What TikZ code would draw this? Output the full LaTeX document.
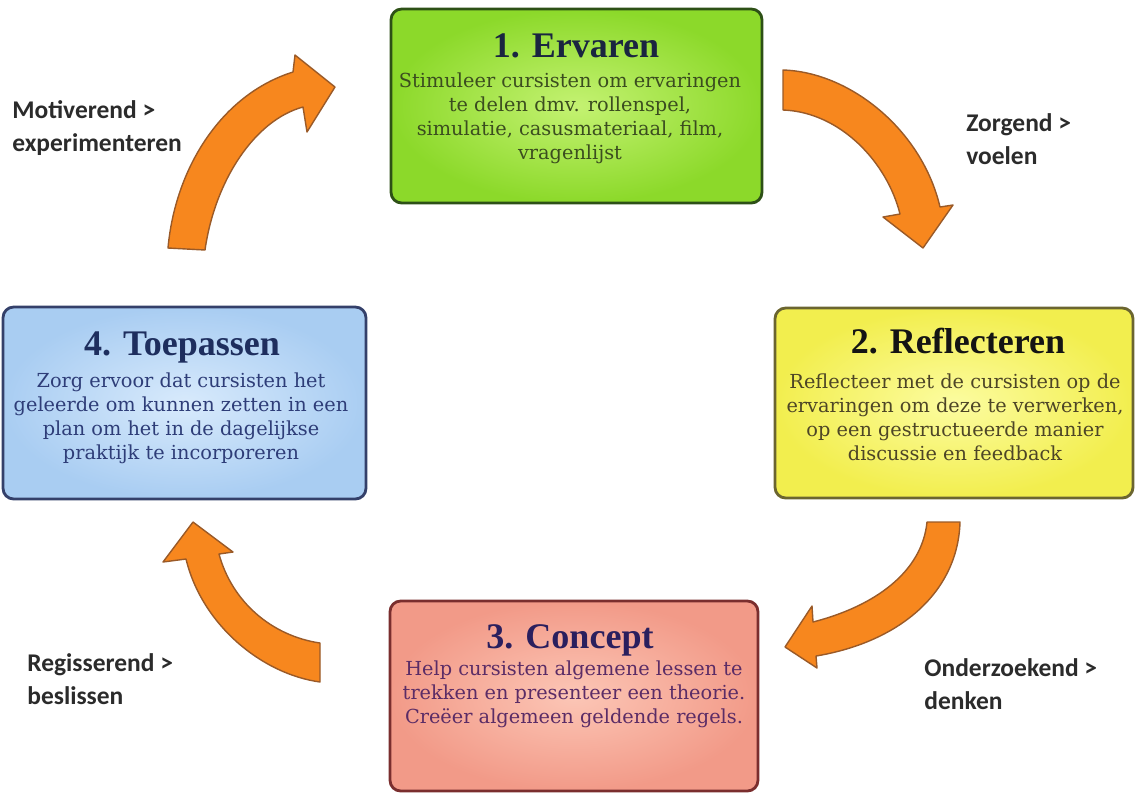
\documentclass[tikz,border=0pt]{standalone}
\usepackage{fontspec}
\setmainfont{DejaVu Serif}
\newfontfamily\titlefont{Liberation Serif}
\newfontfamily\labelfont{Carlito}
\usetikzlibrary{positioning}

\definecolor{arroworange}{HTML}{F7871E}
\definecolor{arrowedge}{HTML}{9A5A28}
\definecolor{labelgray}{HTML}{2B2B2B}
\definecolor{greenedge}{HTML}{2D5016}
\definecolor{greeninner}{HTML}{C4F272}
\definecolor{greenouter}{HTML}{8CD92A}
\definecolor{greentitle}{HTML}{1A2540}
\definecolor{greentext}{HTML}{3B4D1F}
\definecolor{yellowedge}{HTML}{6B6530}
\definecolor{yellowinner}{HTML}{FCFCA0}
\definecolor{yellowouter}{HTML}{F2EE4E}
\definecolor{yellowtitle}{HTML}{141414}
\definecolor{yellowtext}{HTML}{4D4526}
\definecolor{rededge}{HTML}{7A2E2E}
\definecolor{redinner}{HTML}{FCC6B6}
\definecolor{redouter}{HTML}{F29A88}
\definecolor{redtitle}{HTML}{2A1F5E}
\definecolor{redtext}{HTML}{5B2C66}
\definecolor{blueedge}{HTML}{34406A}
\definecolor{blueinner}{HTML}{D8EAFC}
\definecolor{blueouter}{HTML}{A9CDF2}
\definecolor{bluetitle}{HTML}{1E2E5E}
\definecolor{bluetext}{HTML}{2E3D78}

\begin{document}
\begin{tikzpicture}[x=0.02cm, y=-0.02cm,
    stepbox/.style={draw, rounded corners=6pt, line width=1.6pt, inner sep=0pt},
    steptitle/.style={anchor=base, inner sep=0pt, font=\titlefont\bfseries\fontsize{20.5}{24}\selectfont},
    stepbody/.style={align=center, inner sep=0pt, font=\fontsize{11}{13.7}\selectfont},
    sidelabel/.style={anchor=west, align=left, inner sep=0pt, text=labelgray, font=\labelfont\bfseries\fontsize{14.5}{19}\selectfont},
    cyclearrow/.style={fill=arroworange, draw=arrowedge, line width=0.8pt, line join=round}]

    \useasboundingbox (0,0) rectangle (1135,792);

    % 1. Ervaren
    \node[stepbox, draw=greenedge, inner color=greeninner, outer color=greenouter, minimum width=7.42cm, minimum height=3.88cm] (ervaren) at (576.5,106) {};
    \node[steptitle, text=greentitle] (ervarenTitle) at (576,57) {1. Ervaren};
    \node[stepbody, text=greentext] (ervarenText) at (570,118) {Stimuleer cursisten om ervaringen\\ te delen dmv. rollenspel,\\ simulatie, casusmateriaal, film,\\ vragenlijst};

    % 2. Reflecteren
    \node[stepbox, draw=yellowedge, inner color=yellowinner, outer color=yellowouter, minimum width=7.16cm, minimum height=3.8cm] (reflecteren) at (954,403) {};
    \node[steptitle, text=yellowtitle] (reflecterenTitle) at (958,353) {2. Reflecteren};
    \node[stepbody, text=yellowtext] (reflecterenText) at (955,417) {Reflecteer met de cursisten op de\\ ervaringen om deze te verwerken,\\ op een gestructueerde manier\\ discussie en feedback};

    % 3. Concept
    \node[stepbox, draw=rededge, inner color=redinner, outer color=redouter, minimum width=7.36cm, minimum height=3.8cm] (concept) at (574,696) {};
    \node[steptitle, text=redtitle] (conceptTitle) at (570,648) {3. Concept};
    \node[stepbody, text=redtext] (conceptText) at (574,694) {Help cursisten algemene lessen te\\ trekken en presenteer een theorie.\\ Creëer algemeen geldende regels.};

    % 4. Toepassen
    \node[stepbox, draw=blueedge, inner color=blueinner, outer color=blueouter, minimum width=7.26cm, minimum height=3.84cm] (toepassen) at (184.5,403) {};
    \node[steptitle, text=bluetitle] (toepassenTitle) at (182,355) {4. Toepassen};
    \node[stepbody, text=bluetext] (toepassenText) at (181,418) {Zorg ervoor dat cursisten het\\ geleerde om kunnen zetten in een\\ plan om het in de dagelijkse\\ praktijk te incorporeren};

    % Cycle arrows
    \draw[cyclearrow] (168,248) .. controls (175,170) and (220,95) .. (293,72) -- (295,55) -- (335,87) -- (307,132) -- (303,107) .. controls (255,120) and (215,180) .. (205,250) -- cycle;
    \draw[cyclearrow] (783,70) .. controls (850,72) and (922,130) .. (940,207) -- (953,205) -- (923,248) -- (883,217) -- (900,214) .. controls (887,162) and (840,112) .. (783,110) -- cycle;
    \draw[cyclearrow] (960,522) .. controls (958,592) and (900,642) .. (816,656) -- (817,668) -- (785,647) -- (812,606) -- (813,622) .. controls (875,606) and (922,572) .. (927,522) -- cycle;
    \draw[cyclearrow] (320,682) .. controls (262,674) and (202,625) .. (186,559) -- (163,562) -- (193,522) -- (233,552) -- (219,554) .. controls (232,602) and (272,636) .. (320,643) -- cycle;

    % Side labels
    \node[sidelabel] (motiverend) at (12,128) {Motiverend >\\ experimenteren};
    \node[sidelabel] (zorgend) at (966,139) {Zorgend >\\ voelen};
    \node[sidelabel] (onderzoekend) at (924,684) {Onderzoekend >\\ denken};
    \node[sidelabel] (regisserend) at (27,679) {Regisserend >\\ beslissen};
\end{tikzpicture}
\end{document}
